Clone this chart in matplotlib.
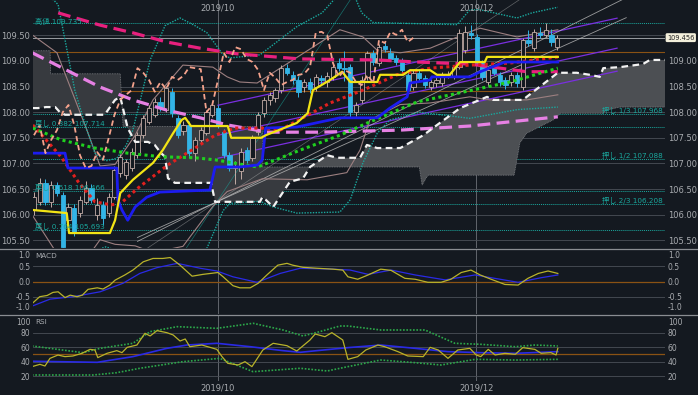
import numpy as np
import matplotlib
matplotlib.use('Agg')
import matplotlib.pyplot as plt
from matplotlib.lines import Line2D
from matplotlib.patches import Rectangle
import matplotlib.transforms as mtransforms

plt.rcParams['font.family'] = ['DejaVu Sans', 'Noto Sans CJK JP']

# ---------------- price data (daily candles) ----------------
opens = [106.09, 106.25, 106.62, 106.25, 106.58, 106.38, 105.89, 106.13, 106.03, 106.25,
         106.52, 106.00, 106.19, 106.03, 106.34, 106.81, 106.77, 106.91, 107.16, 107.55,
         107.81, 107.95, 108.20, 108.04, 108.39, 107.89, 107.63, 107.75, 107.20, 107.46,
         107.60, 107.95, 108.08, 107.61, 107.16, 106.91, 106.85, 107.26, 107.10, 107.61,
         107.98, 108.24, 108.28, 108.43, 108.86, 108.73, 108.63, 108.49, 108.59, 108.49,
         108.67, 108.59, 108.69, 108.96, 108.86, 108.88, 108.00, 108.24, 108.69, 109.16,
         108.96, 109.29, 109.16, 109.06, 108.98, 108.73, 108.49, 108.77, 108.67, 108.49,
         108.57, 108.57, 108.73, 108.69, 108.88, 109.21, 109.55, 109.46, 108.96, 108.59,
         108.86, 108.73, 108.63, 108.59, 108.73, 108.49, 109.41, 109.25, 109.55, 109.51,
         109.51, 109.27]
highs = [106.45, 106.72, 106.70, 106.66, 106.64, 106.45, 106.22, 106.20, 106.36, 106.65,
         106.60, 106.32, 106.26, 106.42, 106.95, 107.18, 107.08, 107.30, 107.62, 107.95,
         108.15, 108.28, 108.30, 108.52, 108.48, 107.95, 107.82, 107.82, 107.52, 107.72,
         108.05, 108.20, 108.15, 107.68, 107.22, 107.05, 107.30, 107.32, 107.55, 108.00,
         108.30, 108.40, 108.48, 108.92, 108.95, 108.80, 108.70, 108.65, 108.66, 108.75,
         108.72, 108.78, 108.95, 109.05, 109.20, 108.95, 108.20, 108.70, 109.20, 109.22,
         109.33, 109.40, 109.25, 109.12, 109.05, 108.80, 108.82, 108.85, 108.72, 108.65,
         108.68, 108.78, 108.80, 108.93, 109.63, 109.68, 109.70, 109.52, 109.02, 108.88,
         108.92, 108.78, 108.68, 108.78, 108.79, 109.45, 109.60, 109.62, 109.66, 109.735,
         109.62, 109.50]
lows = [106.00, 106.18, 106.18, 106.15, 106.36, 105.28, 105.78, 105.58, 105.95, 106.20,
        106.22, 105.90, 105.80, 105.95, 106.30, 106.74, 106.70, 106.85, 107.10, 107.50,
        107.76, 107.90, 108.02, 108.00, 107.90, 107.50, 107.55, 107.10, 107.05, 107.40,
        107.55, 107.90, 107.70, 107.10, 106.85, 106.60, 106.70, 107.00, 107.05, 107.55,
        107.90, 108.15, 108.20, 108.38, 108.72, 108.55, 108.30, 108.40, 108.38, 108.42,
        108.55, 108.50, 108.62, 108.80, 108.60, 107.90, 107.92, 108.18, 108.62, 108.92,
        108.90, 109.18, 109.00, 108.93, 108.76, 108.38, 108.44, 108.60, 108.48, 108.44,
        108.50, 108.52, 108.66, 108.64, 108.84, 109.15, 109.42, 108.92, 108.62, 108.52,
        108.72, 108.52, 108.46, 108.52, 108.50, 108.44, 109.30, 109.20, 109.45, 109.46,
        109.30, 109.22]
closes = [106.34, 106.62, 106.25, 106.58, 106.42, 105.37, 106.15, 105.64, 106.29, 106.52,
          106.29, 106.19, 105.93, 106.34, 106.87, 107.12, 107.03, 107.22, 107.55, 107.89,
          108.08, 108.20, 108.10, 108.47, 107.98, 107.55, 107.75, 107.20, 107.46, 107.65,
          108.00, 108.14, 107.75, 107.16, 106.91, 106.95, 107.22, 107.07, 107.50, 107.95,
          108.24, 108.34, 108.43, 108.86, 108.77, 108.63, 108.40, 108.59, 108.45, 108.69,
          108.63, 108.71, 108.88, 108.86, 108.84, 108.00, 108.14, 108.63, 109.16, 108.98,
          109.27, 109.23, 109.04, 108.98, 108.82, 108.43, 108.77, 108.67, 108.53, 108.59,
          108.63, 108.73, 108.75, 108.88, 109.55, 109.57, 109.50, 108.96, 108.69, 108.82,
          108.77, 108.59, 108.53, 108.73, 108.57, 109.41, 109.35, 109.57, 109.51, 109.61,
          109.37, 109.456]
last_price = 109.456
chikou_shift = 25

month_pos = [32, 76.9]
month_labels = ['2019/10', '2019/12']

# ---------------- Ichimoku / moving averages ----------------
spanA_x = [-0.2, 0.7, 2.1, 3.7, 4.5, 5.4, 12.3, 14.1, 15.0, 16.3, 17.6, 19.8, 21.0, 22.1, 22.8, 23.3,
           24.5, 30.8, 31.5, 39.3, 39.7, 40.3, 41.6, 44.5, 46.8, 48.0, 51.0, 52.7, 56.7, 57.9,
           59.7, 63.7, 67.7, 70.1, 74.1, 78.8, 79.8, 85.0, 91.1, 94.4, 96.7, 98.4, 99.0, 101.9,
           105.9, 107.1, 110.0]
spanA_y = [108.08, 108.08, 108.10, 108.10, 108.00, 107.95, 107.95, 108.24, 108.30, 107.69, 107.42,
           107.42, 107.36, 107.20, 107.13, 106.71, 106.62, 106.62, 106.25, 106.25, 106.34, 106.29,
           106.15, 106.64, 106.71, 106.93, 107.16, 107.11, 107.11, 107.36, 107.30, 107.30, 107.55,
           107.75, 108.08, 108.30, 108.24, 108.24, 108.77, 108.77, 108.73, 108.69, 108.86, 108.88,
           108.94, 109.02, 109.02]
spanB_x = [-0.2, 2.8, 2.9, 15.0, 15.5, 39.7, 39.8, 67.0, 67.5, 68.5, 83.5, 84.5, 85.7, 90.3, 91.5,
           99.0, 99.5, 101.9, 110.0]
spanB_y = [109.20, 109.20, 108.75, 108.75, 107.72, 107.72, 106.93, 106.93, 106.58, 106.77, 106.77,
           107.40, 107.59, 107.85, 107.98, 107.98, 108.04, 108.10, 108.10]

kijun_x = [-0.2, 5.4, 5.9, 14.4, 14.6, 15.3, 16.3, 17.6, 19.6, 21.9, 30.6, 31.5, 35.8, 38.9, 39.7,
           40.3, 45.7, 53.2, 59.7, 61.9, 64.9, 65.4, 68.9, 69.2, 75.8, 77.6, 81.9, 91.1]
kijun_y = [107.20, 107.20, 106.91, 106.91, 106.29, 106.09, 105.89, 106.15, 106.34, 106.44, 106.48,
           106.93, 106.93, 106.97, 107.07, 107.69, 107.71, 107.89, 107.89, 108.08, 108.30, 108.57,
           108.63, 108.69, 108.69, 108.79, 108.98, 108.98]
tenkan_x = [-0.2, 5.7, 6.1, 13.2, 14.1, 15.0, 17.2, 20.7, 22.4, 24.2, 25.7, 26.3, 27.3, 33.7, 34.3,
            39.5, 40.3, 45.7, 47.6, 48.5, 51.5, 53.6, 55.0, 59.7, 60.2, 64.2, 65.4, 68.9, 70.1,
            72.3, 74.1, 78.4, 78.8, 91.1]
tenkan_y = [106.09, 106.03, 105.64, 105.64, 105.89, 106.42, 106.68, 107.01, 107.26, 107.59, 107.85,
            107.89, 107.73, 107.73, 107.50, 107.50, 107.55, 107.79, 107.98, 108.43, 108.63, 108.79,
            108.59, 108.59, 108.73, 108.73, 108.82, 108.82, 108.73, 108.73, 108.98, 108.98, 109.08,
            109.08]
ma_mid_x = [-0.2, 4.7, 7.7, 10.6, 13.4, 15.1, 18.1, 23.3, 28.0, 31.5, 34.9, 39.5, 42.8, 51.5, 57.2,
            63.1, 68.9, 75.8, 82.8, 91.1]
ma_mid_y = [107.75, 107.13, 106.64, 106.25, 106.19, 106.22, 106.52, 106.97, 107.30, 107.55, 107.69,
            107.69, 107.65, 108.18, 108.43, 108.73, 108.86, 108.92, 108.96, 109.08]
ma_green_x = [-0.2, 4.7, 10.6, 16.3, 22.1, 28.0, 31.5, 36.7, 38.9, 40.7, 46.3, 53.2, 58.4, 66.6,
              74.1, 82.8, 91.1]
ma_green_y = [107.69, 107.46, 107.30, 107.20, 107.13, 107.11, 107.07, 106.97, 106.93, 107.01,
              107.26, 107.55, 107.81, 108.20, 108.38, 108.59, 108.86]
ma_long_x = [4.2, 11.5, 17.2, 23.1, 28.9, 35.3, 46.3, 59.7, 66.6, 75.8, 85.7, 91.1]
ma_long_y = [109.94, 109.70, 109.55, 109.37, 109.25, 109.14, 109.04, 109.02, 108.98, 108.94,
             108.79, 108.79]
ma_violet_x = [-0.3, 5.7, 11.5, 17.2, 23.1, 28.9, 33.7, 40.7, 49.7, 63.7, 75.8, 91.1]
ma_violet_y = [109.16, 108.82, 108.49, 108.24, 108.04, 107.89, 107.75, 107.61, 107.61, 107.65,
               107.73, 107.91]

# Bollinger bands
bb2u_x = [-0.3, 4.0, 9.2, 11.5, 14.1, 17.6, 20.7, 25.9, 31.1, 33.6, 35.8, 38.8, 48.5, 53.2, 57.2,
          59.7, 63.7, 68.9, 75.8, 77.6, 84.0, 91.1]
bb2u_y = [109.51, 109.16, 107.65, 106.95, 106.98, 107.55, 108.24, 108.92, 108.88, 108.69, 108.59,
          108.57, 109.27, 109.61, 109.47, 109.21, 109.16, 109.25, 109.57, 109.64, 109.47, 109.61]
bb2l_x = [-0.3, 4.0, 9.2, 11.5, 14.1, 17.6, 20.7, 25.9, 31.1, 33.6, 39.7, 47.5, 54.4, 56.7, 58.4,
          63.7, 68.9, 75.8, 79.3, 85.7, 91.1]
bb2l_y = [105.99, 105.24, 105.15, 105.51, 105.42, 105.39, 105.26, 105.38, 106.16, 106.45, 106.70,
          106.68, 106.82, 107.26, 107.85, 108.15, 108.18, 108.30, 108.24, 108.24, 108.34]
bb3u_x = [-0.2, 4.2, 5.4, 7.1, 9.2, 10.6, 12.5, 14.4, 16.0, 17.2, 20.2, 22.8, 25.4, 28.0, 30.1,
          32.9, 34.1, 39.3, 45.7, 50.1, 53.0, 56.0, 57.0, 59.0, 73.6, 75.8, 77.6, 84.0, 86.6, 91.1]
bb3u_y = [110.60, 110.10, 109.41, 108.43, 107.65, 107.20, 107.05, 107.10, 107.35, 107.65, 109.02,
          109.69, 109.84, 109.69, 109.55, 109.12, 109.06, 109.12, 109.67, 109.94, 110.30, 110.20,
          109.94, 109.75, 109.71, 110.00, 110.00, 109.84, 109.94, 110.05]
bb3l_x = [-0.2, 4.2, 7.1, 9.2, 10.6, 12.5, 14.4, 17.2, 20.2, 25.4, 30.1, 32.9, 34.1, 39.3, 41.6,
          45.7, 53.2, 55.0, 57.2, 59.7, 61.9, 67.1, 75.8, 84.0, 91.1]
bb3l_y = [104.90, 104.24, 105.07, 105.15, 105.30, 105.37, 105.30, 105.23, 104.38, 104.46, 105.35,
          106.08, 106.22, 106.26, 106.15, 106.03, 106.05, 106.29, 107.01, 107.59, 107.85, 108.00,
          107.88, 108.05, 108.10]

# regression channel
reg_x = [32, 101.4]
reg_center = [107.55, 109.25]
reg_offsets = [0.586, 0.0, -0.449]
# fan lines from the October low
fan_anchor = (31.8, 106.25)
fan_slopes = [0.0505, 0.056]
fan_slopes_faint = [0.075]
fan_slopes_steep = [0.17]

# horizontal levels
fib_high = 109.735
push_levels = [107.968, 107.088, 106.208]
push_labels = ['押し 1/3 107.968', '押し 1/2 107.088', '押し 2/3 106.208']
ret_levels = [107.714, 106.466, 105.693]
ret_labels = ['戻し 0.382 107.714', '戻し 0.618 106.466', '戻し 0.764 105.693']
orange_levels = [109.17, 108.41]

# ---------------- MACD ----------------
macd_x = [-0.3, 1, 2.3, 3.3, 4.2, 5.4, 6.3, 7.5, 8.4, 9.4, 11, 12, 13.2, 14.1, 15.8, 17.2, 19, 20.7,
          22.4, 23.7, 25.4, 27.5, 29.4, 32, 32.9, 34.6, 35.8, 37.6, 39, 40.5, 42.4, 44, 45, 46.8,
          49.2, 52, 53.7, 54.6, 56.3, 58.1, 60.3, 62.1, 64.5, 66.3, 68.5, 70.8, 72.5, 74.3, 76,
          77.6, 79.5, 81.9, 84.2, 85.9, 87.7, 89.4, 91.1]
macd_y = [-0.71, -0.49, -0.45, -0.35, -0.33, -0.52, -0.44, -0.49, -0.44, -0.25, -0.20, -0.24, -0.11,
          0.05, 0.22, 0.38, 0.65, 0.76, 0.76, 0.79, 0.54, 0.18, 0.24, 0.30, 0.16, -0.13, -0.20, -0.20,
          -0.05, 0.22, 0.54, 0.60, 0.54, 0.47, 0.44, 0.41, 0.38, 0.16, 0.08, 0.22, 0.41, 0.37, 0.11,
          0.08, -0.02, -0.02, 0.08, 0.30, 0.38, 0.22, 0.08, -0.09, -0.11, 0.11, 0.27, 0.35, 0.27]
signal_x = [-0.35, 2.8, 6.8, 11.5, 15.5, 18.4, 21.4, 24.9, 28.9, 31.8, 34.6, 38.8, 42.8, 46.3, 52.0,
            55.0, 58.1, 62.1, 66.3, 71.5, 76.7, 79.5, 84.2, 88.2, 91.1]
signal_y = [-0.80, -0.57, -0.49, -0.33, -0.05, 0.27, 0.46, 0.60, 0.44, 0.35, 0.16, -0.02, 0.27, 0.44,
            0.41, 0.38, 0.24, 0.38, 0.22, 0.06, 0.22, 0.13, -0.02, 0.13, 0.22]

# ---------------- RSI ----------------
rsi_x = [-0.35, 1.04, 1.91, 2.78, 4.17, 5.39, 6.78, 8.35, 9.74, 10.6, 11.1, 12.7, 14.4, 15.3, 16.2,
         17.9, 19.3, 20.2, 21.4, 23.1, 24.2, 25.4, 26.3, 27.1, 29.2, 30.6, 31.8, 32.7, 33.7, 35.5,
         36.7, 37.9, 39.8, 41.6, 44.0, 45.7, 48.0, 48.9, 50.6, 51.8, 53.7, 54.6, 56.3, 57.7, 59.8,
         61.0, 63.3, 65.0, 67.7, 68.9, 70.3, 72.0, 73.7, 75.8, 76.9, 77.7, 79.0, 80.2, 81.9, 83.7,
         85.0, 87.1, 88.2, 89.9, 90.8, 91.1]
rsi_y = [33.0, 36.2, 33.9, 44.5, 49.1, 46.9, 47.8, 51.5, 57.0, 56.1, 45.5, 51.5, 55.2, 52.4, 59.8,
         63.0, 79.3, 75.6, 83.0, 80.2, 77.0, 68.6, 71.4, 60.7, 63.0, 59.8, 57.0, 46.9, 37.6, 35.3,
         39.9, 33.0, 56.1, 65.4, 62.1, 54.7, 70.0, 78.3, 74.6, 80.2, 70.0, 43.1, 46.9, 56.1, 63.0,
         60.7, 53.8, 47.8, 46.9, 59.8, 56.1, 44.5, 56.1, 58.4, 49.2, 46.9, 57.0, 49.2, 51.5, 50.1,
         59.4, 57.0, 51.5, 52.4, 49.2, 58.4]
rsi_ma_x = [-0.35, 11.0, 17.2, 23.1, 26.6, 31.8, 37.6, 43.3, 46.3, 49.2, 54.6, 60.3, 66.3, 72.0,
            77.7, 83.7, 91.1]
rsi_ma_y = [40.5, 39.0, 46.9, 58.4, 63.0, 65.4, 60.7, 55.2, 52.9, 55.2, 59.4, 63.0, 58.4, 53.8,
            52.4, 51.5, 53.8]
rsi_up_x = [-0.35, 8.5, 11.5, 17.2, 20.2, 24.9, 31.8, 38.1, 43.3, 46.8, 49.7, 53.2, 54.6, 60.3, 68.0,
            73.2, 77.7, 83.7, 87.1, 91.1]
rsi_up_y = [61.7, 52.4, 58.4, 65.4, 81.6, 88.5, 86.2, 93.2, 83.9, 75.6, 81.6, 89.4, 89.4, 83.9, 83.9,
            65.4, 64.0, 60.7, 63.0, 61.7]
rsi_lo_x = [-0.35, 10.3, 14.4, 18.4, 25.9, 32.3, 38.1, 46.3, 51.0, 54.6, 60.3, 66.3, 70.8, 76.7,
            83.7, 91.1]
rsi_lo_y = [21.4, 21.4, 24.6, 30.7, 39.9, 44.5, 26.0, 30.7, 27.0, 33.0, 42.2, 38.5, 35.3, 43.1, 42.2,
            43.1]

# ---------------- styling ----------------
BG = '#141920'
TXT = '#a9acb0'
GRID = '#4a4f57'
TEAL = '#1aa89e'
ORANGE = '#8a5214'
UP_EDGE = '#c2aca6'
DOWN = '#33b4e6'

fig = plt.figure(figsize=(6.98, 3.95), dpi=100)
fig.patch.set_facecolor(BG)
W, H = 698.0, 395.0
L, R = 33.0, 665.0
ax = fig.add_axes([L / W, 1 - 248 / H, (R - L) / W, 248 / H])
axm = fig.add_axes([L / W, 1 - 314 / H, (R - L) / W, 65 / H], sharex=ax)
axr = fig.add_axes([L / W, 1 - 381 / H, (R - L) / W, 66 / H], sharex=ax)

for a in (ax, axm, axr):
    a.set_facecolor(BG)
    for s in a.spines.values():
        s.set_visible(False)
    a.tick_params(axis='y', which='both', length=0, labelsize=6, labelcolor=TXT,
                  labelleft=True, labelright=True, pad=2)
    a.tick_params(axis='x', length=0, labelbottom=False)
    for mp in month_pos:
        a.axvline(mp, color='#6d7178', lw=0.6, zorder=0.5)

ax.set_xlim(-0.17, 109.74)
ax.set_ylim(105.348, 110.191)
axm.set_ylim(-1.056, 1.069)
axr.set_ylim(13.06, 104.7)

# ----- main panel -----
yt = np.arange(105.5, 109.51, 0.5)
ax.set_yticks(yt)
ax.set_yticklabels(['%.2f' % v for v in yt])
for tk, v in zip(ax.yaxis.get_major_ticks(), yt):
    if v > 109.4:
        tk.label2.set_visible(False)   # hidden behind the last-price tag
for v in yt:
    ax.axhline(v, color=GRID, lw=0.6, zorder=0.6)
for v in orange_levels:
    ax.axhline(v, color=ORANGE, lw=0.8, zorder=0.7)
for v in [fib_high] + push_levels + ret_levels:
    ax.axhline(v, color=TEAL, lw=0.7, ls=(0, (1, 1)), zorder=0.7)
ax.axhline(last_price, color='#9a9ea3', lw=0.7, zorder=0.7)

# cloud: split where span A crosses span B
sAx, sAy = np.array(spanA_x), np.array(spanA_y)
sBx, sBy = np.array(spanB_x), np.array(spanB_y)
cut = 48.0
mA, mB = sAx <= cut, sBx <= cut
ax.fill(np.r_[sAx[mA], sBx[mB][::-1]], np.r_[sAy[mA], sBy[mB][::-1]],
        color='#373a3f', lw=0, zorder=1)
mA, mB = sAx >= cut, sBx >= 67.0
ax.fill(np.r_[sAx[mA], sBx[mB][::-1]], np.r_[sAy[mA], sBy[mB][::-1]],
        color='#4c4f53', lw=0, zorder=1)
ax.plot(spanB_x, spanB_y, color='#7c7f83', lw=0.6, ls=(0, (1, 1)), zorder=1.2)

# regression channel and fans
for off in reg_offsets:
    ax.plot(reg_x, [reg_center[0] + off, reg_center[1] + off], color='#7a2fe0', lw=0.9, zorder=2)
fx = np.array([18.0, 103.0])
for s in fan_slopes:
    ax.plot(fx, fan_anchor[1] + s * (fx - fan_anchor[0]), color='#bdbdbd', lw=0.6, alpha=0.8, zorder=2)
for s in fan_slopes_faint:
    ax.plot(fx, fan_anchor[1] + s * (fx - fan_anchor[0]), color='#bdbdbd', lw=0.5, alpha=0.45, zorder=2)
for s in fan_slopes_steep:
    ax.plot(fx, fan_anchor[1] + s * (fx - fan_anchor[0]), color=TEAL, lw=0.5, alpha=0.6, zorder=2)

# Bollinger
ax.plot(bb2u_x, bb2u_y, color='#9c7f80', lw=0.8, zorder=2.2)
ax.plot(bb2l_x, bb2l_y, color='#9c7f80', lw=0.8, zorder=2.2)
ax.plot(bb3u_x, bb3u_y, color=TEAL, lw=1.0, ls=(0, (1, 1)), zorder=2.2)
ax.plot(bb3l_x, bb3l_y, color=TEAL, lw=1.0, ls=(0, (1, 1)), zorder=2.2)

# candles
for i, (o, h, l, c) in enumerate(zip(opens, highs, lows, closes)):
    up = c >= o
    ec = UP_EDGE if up else DOWN
    ax.vlines(i, l, h, color=ec, lw=0.7, zorder=3)
    ax.add_patch(Rectangle((i - 0.36, min(o, c)), 0.72, max(abs(c - o), 0.012),
                           facecolor=BG if up else DOWN, edgecolor=ec, lw=0.6, zorder=3.1))

# indicator lines
ax.plot(ma_long_x, ma_long_y, color='#e8207e', lw=2.3, dashes=(4, 2), zorder=4)
ax.plot(ma_violet_x, ma_violet_y, color='#e680e3', lw=2.3, dashes=(4, 2), zorder=4)
ax.plot(spanA_x, spanA_y, color='#f2f2f2', lw=1.6, dashes=(3, 2), zorder=4)
ax.plot(ma_mid_x, ma_mid_y, color='#e0201e', lw=2.2, ls=(0, (1, 1.1)), zorder=4.1)
ax.plot(ma_green_x, ma_green_y, color='#1fd01f', lw=2.2, ls=(0, (1, 1.1)), zorder=4.1)
ax.plot(kijun_x, kijun_y, color='#1c1cf0', lw=2.0, zorder=4.2)
ax.plot(tenkan_x, tenkan_y, color='#f2e415', lw=1.6, zorder=4.3)
ch = closes[chikou_shift:]
ax.plot(np.arange(len(ch)), ch, color='#f4a28c', lw=1.3, dashes=(3, 2), zorder=4.4)

# texts
bt = mtransforms.blended_transform_factory(ax.transAxes, ax.transData)
ax.text(0.003, fib_high + 0.045, '高値 ' + f'{fib_high:.3f}', transform=bt, color=TEAL,
        fontsize=5.2, va='center', ha='left', zorder=6)
for v, t in zip(ret_levels, ret_labels):
    ax.text(0.003, v + 0.07, t, transform=bt, color=TEAL, fontsize=5.2, va='center', ha='left', zorder=6)
for v, t in zip(push_levels, push_labels):
    ax.text(0.997, v + 0.06, t, transform=bt, color=TEAL, fontsize=5.2, va='center', ha='right', zorder=6)
bx = mtransforms.blended_transform_factory(ax.transData, ax.transAxes)
for mp, ml in zip(month_pos, month_labels):
    ax.text(mp, 0.968, ml, transform=bx, color=TXT, fontsize=6, ha='center', va='center')
ax.annotate(f'{last_price:.3f}', xy=(1.0, last_price), xycoords=bt, xytext=(1.5, 0),
            textcoords='offset points', color='#222222', fontsize=4.8, va='center', ha='left',
            bbox=dict(boxstyle='round,pad=0.22', fc='#f3efdb', ec='none'), annotation_clip=False,
            zorder=10)

# ----- MACD -----
mt = [-1.0, -0.5, 0.0, 0.5, 1.0]
axm.set_yticks(mt)
axm.set_yticklabels(['%.1f' % v for v in mt])
axm.tick_params(axis='y', labelsize=5.5)
for tk, v in zip(axm.yaxis.get_major_ticks(), mt):
    if v == -1.0:
        tk.label1.set_va('bottom')
        tk.label2.set_va('bottom')
    if v == 1.0:
        tk.label1.set_va('top')
        tk.label2.set_va('top')
for v in [-0.5, 0.5]:
    axm.axhline(v, color=GRID, lw=0.6, zorder=0.6)
axm.axhline(0.0, color=ORANGE, lw=0.9, zorder=0.7)
axm.plot(signal_x, signal_y, color='#2a2ae6', lw=0.9, zorder=3)
axm.plot(macd_x, macd_y, color='#b9b32a', lw=0.9, zorder=3.1)
axm.text(0.004, 0.9, 'MACD', transform=axm.transAxes, color=TXT, fontsize=5.2, va='center')

# ----- RSI -----
rt = [20, 40, 60, 80, 100]
axr.set_yticks(rt)
axr.set_yticklabels([str(v) for v in rt])
axr.tick_params(axis='y', labelsize=5.5)
for tk, v in zip(axr.yaxis.get_major_ticks(), rt):
    if v == 100:
        tk.label1.set_va('top')
        tk.label2.set_va('top')
for v in [20, 40, 60, 80]:
    axr.axhline(v, color=GRID, lw=0.6, zorder=0.6)
axr.axhline(50, color=ORANGE, lw=0.9, zorder=0.7)
axr.plot(rsi_up_x, rsi_up_y, color='#2ca84a', lw=1.2, ls=(0, (1, 1)), zorder=3)
axr.plot(rsi_lo_x, rsi_lo_y, color='#2ca84a', lw=1.2, ls=(0, (1, 1)), zorder=3)
axr.plot(rsi_ma_x, rsi_ma_y, color='#2a2ae6', lw=1.2, zorder=3.1)
axr.plot(rsi_x, rsi_y, color='#b9b32a', lw=0.9, zorder=3.2)
axr.text(0.004, 0.9, 'RSI', transform=axr.transAxes, color=TXT, fontsize=5.2, va='center')
axr.set_xticks(month_pos)
axr.set_xticklabels(month_labels)
axr.tick_params(axis='x', labelbottom=True, labelsize=6, labelcolor=TXT, pad=2)

# panel separators
for yp in (248.5, 314.5):
    fig.add_artist(Line2D([0, 1], [1 - yp / H, 1 - yp / H], transform=fig.transFigure,
                          color='#8a8d92', lw=0.9))

fig.savefig('out.png', dpi=100, facecolor=BG)
